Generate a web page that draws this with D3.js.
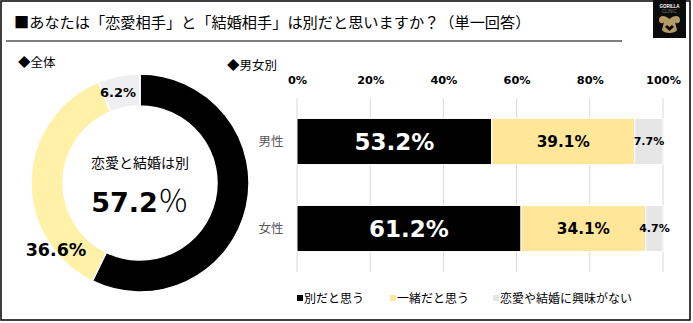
<!DOCTYPE html>
<html lang="ja">
<head>
<meta charset="utf-8">
<script src="https://cdn.jsdelivr.net/npm/d3@7"></script>
<style>
  html, body { margin: 0; padding: 0; background: #fff; }
  svg { display: block; }
  .jp { font-family: "Noto Sans CJK JP", "Noto Sans", sans-serif; }
  .num { font-family: "DejaVu Sans", "Liberation Sans", Arial, sans-serif; font-weight: bold; }
</style>
</head>
<body>
<svg id="chart" width="693" height="323"></svg>
<script>
// Survey: 「恋愛相手」と「結婚相手」は別だと思うか
const titleText = "■あなたは「恋愛相手」と「結婚相手」は別だと思いますか？（単一回答）";
const seriesNames = ["別だと思う", "一緒だと思う", "恋愛や結婚に興味がない"];
const overallValues = [57.2, 36.6, 6.2];
const categories = ["男性", "女性"];
const separateValues = [53.2, 61.2];
const togetherValues = [39.1, 34.1];
const noInterestValues = [7.7, 4.7];
const tickValues = [0, 20, 40, 60, 80, 100];

const barColors = ["#000000", "#FFE699", "#E7E6E6"];
const donutColors = ["#000000", "#FFF1A8", "#EFEEF1"];

const svg = d3.select("#chart");

// frame
svg.append("rect").attr("x", 1).attr("y", 1).attr("width", 689).attr("height", 319)
  .attr("fill", "none").attr("stroke", "#000").attr("stroke-width", 1.5);

// title and rule
svg.append("text").attr("class", "jp").attr("x", 14).attr("y", 28)
  .attr("font-size", 15.2).attr("fill", "#000").text(titleText);
svg.append("line").attr("x1", 6).attr("x2", 622).attr("y1", 41).attr("y2", 41)
  .attr("stroke", "#000").attr("stroke-width", 1.2);

// brand mark
const logo = svg.append("g").attr("transform", "translate(653,0)");
logo.append("rect").attr("width", 33).attr("height", 38).attr("fill", "#0b0b0b");
logo.append("text").attr("x", 16.5).attr("y", 8).attr("text-anchor", "middle")
  .attr("font-size", 4.5).attr("font-weight", "bold").attr("fill", "#fff")
  .attr("font-family", "Liberation Sans").text("GORILLA");
logo.append("text").attr("x", 16.5).attr("y", 13).attr("text-anchor", "middle")
  .attr("font-size", 4.5).attr("fill", "#777")
  .attr("font-family", "Liberation Sans").text("CLINIC");
logo.append("path")
  .attr("d", "M6,20 C6,15 12,15 16.5,19 C21,15 27,15 27,20 C27,24 23,24 22,22 L24,30 C22,34 11,34 9,30 L11,22 C10,24 6,24 6,20 Z")
  .attr("fill", "#B59A63");
logo.append("path").attr("d", "M12,27 L16.5,31 L21,27 L19,25 L16.5,27 L14,25 Z").attr("fill", "#0b0b0b");

// section headings
svg.append("text").attr("class", "jp").attr("x", 18).attr("y", 67)
  .attr("font-size", 12.5).text("◆全体");
svg.append("text").attr("class", "jp").attr("x", 227).attr("y", 70)
  .attr("font-size", 12.5).text("◆男女別");

// ---- donut: overall ----
const cx = 140, cy = 183;
const pie = d3.pie().sort(null).value(d => d)(overallValues);
const arc = d3.arc().innerRadius(77).outerRadius(109);
const donut = svg.append("g").attr("transform", `translate(${cx},${cy})`);
donut.selectAll("path").data(pie).join("path")
  .attr("d", arc)
  .attr("fill", (d, i) => donutColors[i])
  .attr("stroke", "#fff").attr("stroke-width", 1.5);

donut.append("text").attr("class", "jp").attr("x", 0).attr("y", -15)
  .attr("text-anchor", "middle").attr("font-size", 14).text("恋愛と結婚は別");
const big = donut.append("text").attr("x", 0).attr("y", 29).attr("text-anchor", "middle");
big.append("tspan").attr("class", "num").attr("font-size", 27).text(overallValues[0].toFixed(1));
big.append("tspan").attr("class", "jp").attr("font-size", 31).attr("font-weight", 300).text("％");

// outer labels for the smaller slices
svg.append("text").attr("class", "num").attr("x", 118).attr("y", 97)
  .attr("text-anchor", "middle").attr("font-size", 13)
  .text(overallValues[2].toFixed(1) + "%");
svg.append("text").attr("class", "num").attr("x", 56).attr("y", 256)
  .attr("text-anchor", "middle").attr("font-size", 17.5)
  .text(overallValues[1].toFixed(1) + "%");

// ---- stacked bars: by gender ----
const x = d3.scaleLinear().domain([0, 100]).range([297, 663]);
const y = d3.scaleBand().domain(categories).range([98, 272]).paddingInner(0.47).paddingOuter(0.235);

// grid
svg.append("g").selectAll("line").data(tickValues).join("line")
  .attr("x1", d => x(d)).attr("x2", d => x(d))
  .attr("y1", 98).attr("y2", 272)
  .attr("stroke", "#D9D9D9").attr("stroke-width", 1);

// top axis labels
const axis = svg.append("g").attr("transform", "translate(0,84)")
  .call(d3.axisTop(x).tickValues(tickValues).tickFormat(d => d + "%").tickSize(0).tickPadding(0));
axis.select(".domain").remove();
axis.selectAll("text").attr("class", "num").attr("font-size", 11.3).attr("fill", "#000");

// category labels
svg.append("g").selectAll("text").data(categories).join("text")
  .attr("class", "jp").attr("x", 271).attr("y", d => y(d) + y.bandwidth() / 2 + 4.5)
  .attr("text-anchor", "middle").attr("font-size", 12.5).attr("fill", "#595959").text(d => d);

const rows = categories.map((c, i) => ({
  cat: c, vals: [separateValues[i], togetherValues[i], noInterestValues[i]]
}));
const segs = [];
rows.forEach(r => {
  let acc = 0;
  r.vals.forEach((v, k) => { segs.push({ cat: r.cat, k, v, x0: acc, x1: acc + v }); acc += v; });
});

svg.append("g").selectAll("rect").data(segs).join("rect")
  .attr("x", d => x(d.x0)).attr("width", d => x(d.x1) - x(d.x0))
  .attr("y", d => y(d.cat)).attr("height", y.bandwidth())
  .attr("fill", d => barColors[d.k])
  .attr("stroke", "#fff").attr("stroke-width", 1);

const labelSize = [23, 15.3, 11];
svg.append("g").selectAll("text").data(segs).join("text")
  .attr("class", "num")
  .attr("x", d => x((d.x0 + d.x1) / 2))
  .attr("y", d => y(d.cat) + y.bandwidth() / 2 + labelSize[d.k] * 0.36)
  .attr("text-anchor", "middle")
  .attr("font-size", d => labelSize[d.k])
  .attr("fill", d => d.k === 0 ? "#fff" : "#000")
  .text(d => d.v.toFixed(1) + "%");

// legend
const legendX = [297, 390, 493];
const legend = svg.append("g").selectAll("g").data(seriesNames).join("g")
  .attr("transform", (d, i) => `translate(${legendX[i]},298)`);
legend.append("rect").attr("x", 0).attr("y", -3).attr("width", 6).attr("height", 6)
  .attr("fill", (d, i) => barColors[i]);
legend.append("text").attr("class", "jp").attr("x", 7).attr("y", 4.5)
  .attr("font-size", 12).attr("fill", "#000").text(d => d);
</script>
</body>
</html>
